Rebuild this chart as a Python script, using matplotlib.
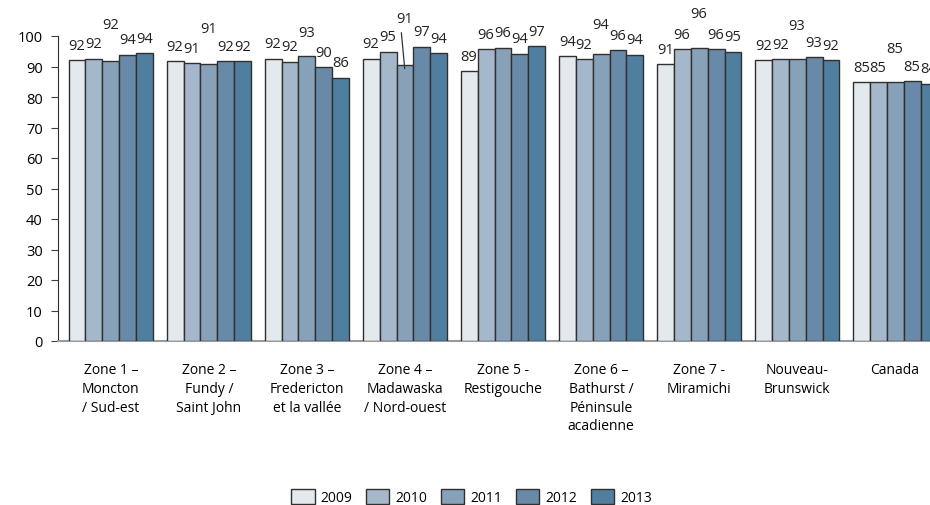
import numpy as np
import matplotlib as mpl
mpl.use('Agg')
import matplotlib.pyplot as plt

zones = ["Zone 1 \u2013\nMoncton\n/ Sud-est", "Zone 2 \u2013\nFundy /\nSaint John",
         "Zone 3 \u2013\nFredericton\net la vallée", "Zone 4 \u2013\nMadawaska\n/ Nord-ouest",
         "Zone 5 -\nRestigouche", "Zone 6 \u2013\nBathurst /\nPéninsule\nacadienne",
         "Zone 7 -\nMiramichi", "Nouveau-\nBrunswick", "Canada"]
years = ["2009", "2010", "2011", "2012", "2013"]

# bar heights, one list per year
v2009 = [92.1, 91.8, 92.5, 92.5, 88.5, 93.4, 90.8, 92.1, 84.8]
v2010 = [92.5, 91.1, 91.5, 94.9, 95.7, 92.4, 95.7, 92.4, 84.8]
v2011 = [91.8, 90.7, 93.4, 90.4, 96.1, 94.1, 96.1, 92.4, 84.8]
v2012 = [93.8, 91.8, 89.7, 96.5, 94.1, 95.4, 95.7, 93.1, 85.1]
v2013 = [94.4, 91.8, 86.3, 94.4, 96.7, 93.8, 94.8, 92.1, 84.4]

# printed labels (rounded)
l2009 = [92, 92, 92, 92, 89, 94, 91, 92, 85]
l2010 = [92, 91, 92, 95, 96, 92, 96, 92, 85]
l2011 = [92, 91, 93, 91, 96, 94, 96, 93, 85]
l2012 = [94, 92, 90, 97, 94, 96, 96, 93, 85]
l2013 = [94, 92, 86, 94, 97, 94, 95, 92, 84]

values = [v2009, v2010, v2011, v2012, v2013]
labels = [l2009, l2010, l2011, l2012, l2013]
colors = ["#E4E9ED", "#A5B8CB", "#87A1B9", "#6889A7", "#507E9F"]
# extra lift (px) of the middle label in each group
lift = [22, 21, 9, 32, 0, 14, 19, 19, 19]

plt.rcParams['font.family'] = ['Open Sans', 'DejaVu Sans']

fig = plt.figure(figsize=(9.3, 5.06), dpi=100)
ax = fig.add_axes([58 / 930, 1 - 342 / 506, 892 / 930, 305 / 506])

x = np.arange(len(zones))
w = 0.173
for i in range(5):
    xs = x + (i - 2) * w
    ax.bar(xs, values[i], w, color=colors[i], edgecolor="#303030",
           linewidth=1, label=years[i], zorder=3)
    for j in range(len(zones)):
        off = 15
        if i == 2:
            off += lift[j]
        ax.annotate(str(labels[i][j]), (xs[j], values[i][j]),
                    xytext=(0, off * 0.72), textcoords='offset points',
                    ha='center', va='center', fontsize=10.5, color="#222222",
                    annotation_clip=False)

# leader line for zone 4, 2011
ax.annotate("", (x[3], values[2][3] - 2), xytext=(x[3] - 0.04, 102),
            arrowprops=dict(arrowstyle='-', color="#333333", lw=0.9),
            annotation_clip=False)

ax.set_xlim(-0.54, 8.56)
ax.set_ylim(0, 100)
ax.set_yticks(np.arange(0, 101, 10))
ax.tick_params(axis='y', labelsize=10.5, length=5, color="#404040", pad=6)
ax.set_xticks(x)
ax.set_xticklabels(zones, fontsize=10, linespacing=1.35, va='top')
ax.tick_params(axis='x', length=0, pad=15)
for s in ['top', 'right']:
    ax.spines[s].set_visible(False)
ax.spines['left'].set_color("#303030")
ax.spines['bottom'].set_color("#9A9A9A")
ax.spines['bottom'].set_linewidth(1.5)

fig.legend(loc='lower center', bbox_to_anchor=(0.507, -0.025), ncol=5,
           frameon=False, fontsize=10, handlelength=1.7, handleheight=1.2,
           columnspacing=0.95, handletextpad=0.45)

fig.savefig("out.png", dpi=100)
